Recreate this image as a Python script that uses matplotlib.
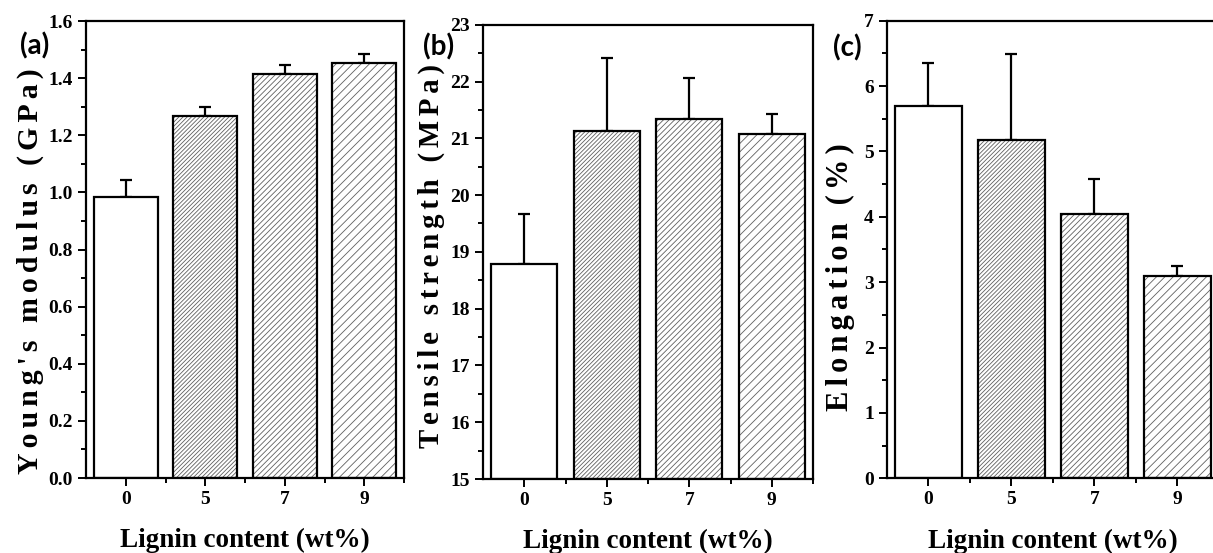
import matplotlib
matplotlib.use("Agg")
import matplotlib.pyplot as plt
from matplotlib.ticker import MultipleLocator, FixedLocator, FormatStrFormatter
import numpy as np

categories = ["0", "5", "7", "9"]

modulus = [0.984, 1.266, 1.415, 1.452]
modulus_err = [0.059, 0.034, 0.031, 0.034]

strength = [18.79, 21.13, 21.34, 21.08]
strength_err = [0.88, 1.28, 0.72, 0.35]

elongation = [5.69, 5.17, 4.05, 3.10]
elongation_err = [0.67, 1.32, 0.53, 0.15]

plt.rcParams['hatch.linewidth'] = 0.6

serif = 'Liberation Serif'
# hatch gets sparser with lignin content in the original
hatches = [None, '////////', '//////', '////']

fig = plt.figure(figsize=(12.13, 5.53), dpi=100)

# axes boxes (left, bottom, width, height)
boxes = [
    [0.0709, 0.1356, 0.2622, 0.8264],
    [0.3982, 0.1338, 0.2721, 0.8215],
    [0.7312, 0.1351, 0.2737, 0.8275],
]

# tag, values, errors, ylabel, ylabel size, ylim, major, minor, fmt, ylabel xy, tag xy
panels = [
    ("(a)", modulus, modulus_err, "Young's modulus (GPa)", 21.5, (0, 1.6), 0.2, 0.1, "%.1f",
     (-0.176, 0.453), (-0.163, 0.945)),
    ("(b)", strength, strength_err, "Tensile strength (MPa)", 20.8, (15, 23), 1, 0.5, "%d",
     (-0.158, 0.49), (-0.136, 0.951)),
    ("(c)", elongation, elongation_err, "Elongation (%)", 22, (0, 7), 1, 0.5, "%d",
     (-0.14, 0.44), (-0.12, 0.94)),
]

def spaced(s):
    # the original y labels are stretched out, fake it with six-per-em spaces
    return "\u2006".join(s)

for box, (tag, vals, errs, ylab, lsize, ylim, major, minor, fmt, lxy, txy) in zip(boxes, panels):
    ax = fig.add_axes(box)
    x = np.arange(len(categories))
    bottom = ylim[0]
    for i in range(len(vals)):
        # grey hatch first, black outline on top
        ax.bar(x[i], vals[i] - bottom, bottom=bottom, width=0.8, color='white',
               edgecolor='#606060', linewidth=0, hatch=hatches[i], zorder=2)
        ax.bar(x[i], vals[i] - bottom, bottom=bottom, width=0.8, fill=False,
               edgecolor='black', linewidth=1.6, zorder=3)
    ax.errorbar(x, vals, yerr=[np.zeros(len(vals)), errs], fmt='none', ecolor='black',
                elinewidth=1.6, capsize=4, capthick=1.6, zorder=1)

    ax.set_xlim(-0.5, 3.5)
    ax.set_ylim(*ylim)
    ax.set_xticks(x)
    ax.set_xticklabels(categories)
    ax.xaxis.set_minor_locator(FixedLocator(np.append(x[:-1] + 0.5, 3.5)))
    ax.yaxis.set_major_locator(MultipleLocator(major))
    ax.yaxis.set_minor_locator(MultipleLocator(minor))
    ax.yaxis.set_major_formatter(FormatStrFormatter(fmt))

    for sp in ax.spines.values():
        sp.set_linewidth(1.6)
    ax.tick_params(which='major', direction='out', length=6, width=1.4, top=False, right=False)
    ax.tick_params(which='minor', direction='out', length=3.5, width=1.4, top=False, right=False)
    for lab in ax.get_xticklabels() + ax.get_yticklabels():
        lab.set_fontfamily(serif)
        lab.set_fontweight('bold')
        lab.set_fontsize(14)

    ax.set_xlabel("Lignin content (wt%)", fontfamily=serif, fontweight='bold', fontsize=19.5)
    ax.xaxis.set_label_coords(0.5, -0.11, transform=ax.transAxes)
    ax.xaxis.label.set_verticalalignment('top')
    ax.set_ylabel(spaced(ylab), fontfamily=[serif, 'DejaVu Serif'], fontweight='bold', fontsize=lsize)
    ax.yaxis.set_label_coords(*lxy)
    ax.yaxis.label.set_verticalalignment('center')

    ax.text(txy[0], txy[1], tag, transform=ax.transAxes, fontfamily='Lato', fontweight='bold',
            fontsize=20, ha='center', va='center')

fig.savefig("out.png", dpi=100)
